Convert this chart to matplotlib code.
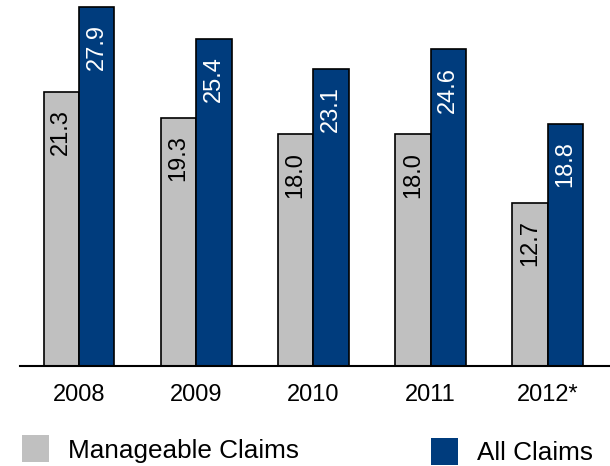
import numpy as np
import matplotlib
matplotlib.use('Agg')
import matplotlib.pyplot as plt
from matplotlib.patches import Rectangle

plt.rcParams['font.family'] = ['Liberation Sans', 'DejaVu Sans']

# Data
years = ['2008', '2009', '2010', '2011', '2012*']
manageable = [21.3, 19.3, 18.0, 18.0, 12.7]
all_claims = [27.9, 25.4, 23.1, 24.6, 18.8]

gray = '#C0C0C0'
navy = '#003C7D'

fig = plt.figure(figsize=(6.1, 4.66), dpi=100)
ax = fig.add_axes([20 / 610, 1 - 366 / 466, 590 / 610, 366 / 466])

x = np.arange(len(years))
w = 0.302
b1 = ax.bar(x - w / 2, manageable, w, color=gray, edgecolor='black', linewidth=1.2)
b2 = ax.bar(x + w / 2, all_claims, w, color=navy, edgecolor='black', linewidth=1.2)

# value labels inside the bars
for bars, vals, col in [(b1, manageable, 'black'), (b2, all_claims, 'white')]:
    for rect, v in zip(bars, vals):
        ax.annotate(f'{v:.1f}', (rect.get_x() + rect.get_width() / 2, v),
                    xytext=(0, -12.5), textcoords='offset points',
                    rotation=90, ha='center', va='top', fontsize=17, color=col)

ax.set_xlim(-0.503, 4.53)
ax.set_ylim(0, 28.44)
ax.set_xticks(x)
ax.set_xticklabels(years, fontsize=17)
ax.tick_params(axis='x', length=0, pad=13)
ax.set_yticks([])
for s in ['top', 'right', 'left']:
    ax.spines[s].set_visible(False)
ax.spines['bottom'].set_linewidth(1.5)

# legend
fig.patches.append(Rectangle((22 / 610, 1 - 462 / 466), 27 / 610, 27 / 466,
                             transform=fig.transFigure, facecolor=gray, edgecolor='none'))
fig.text(68 / 610, 1 - 451 / 466, 'Manageable Claims', fontsize=18.8, va='center', ha='left')
fig.patches.append(Rectangle((431 / 610, 1 - 465 / 466), 27 / 610, 27 / 466,
                             transform=fig.transFigure, facecolor=navy, edgecolor='none'))
fig.text(477 / 610, 1 - 453 / 466, 'All Claims', fontsize=18.8, va='center', ha='left')

fig.savefig('out.png', dpi=100)
